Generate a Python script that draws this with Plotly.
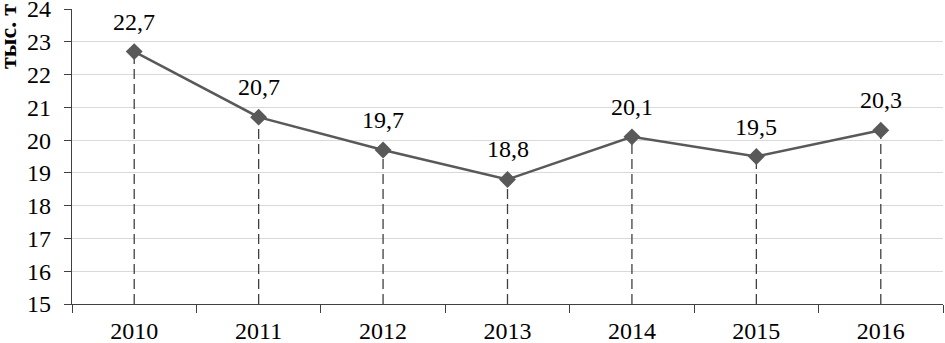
import plotly.graph_objects as go

years = ["2010", "2011", "2012", "2013", "2014", "2015", "2016"]
values = [22.7, 20.7, 19.7, 18.8, 20.1, 19.5, 20.3]
labels = ["22,7", "20,7", "19,7", "18,8", "20,1", "19,5", "20,3"]
y_min, y_max = 15, 24

FONT = "Liberation Serif, Times New Roman, serif"
W, H = 945, 343
ml, mr, mt, mb = 72, 2, 9, 39

fig = go.Figure()

# dashed drop lines from each point to the category axis
drop_x, drop_y = [], []
for yr, v in zip(years, values):
    drop_x += [yr, yr, None]
    drop_y += [y_min, v, None]
fig.add_trace(go.Scatter(
    x=drop_x, y=drop_y, mode="lines", connectgaps=False,
    line=dict(color="#404040", width=1.3, dash="10px,5px"),
    hoverinfo="skip", showlegend=False, cliponaxis=False,
))

fig.add_trace(go.Scatter(
    x=years, y=values, mode="lines+markers",
    line=dict(color="#595959", width=2.5),
    marker=dict(symbol="diamond", size=13, color="#595959"),
    cliponaxis=False, showlegend=False,
))

for i, (v, lab) in enumerate(zip(values, labels)):
    fig.add_annotation(x=i, y=v, xref="x", yref="y", text=lab, showarrow=False,
                       xanchor="center", yanchor="bottom", yshift=15,
                       font=dict(family=FONT, size=24, color="#000000"))

fig.add_annotation(text="<b>тыс. т</b>", xref="paper", yref="paper",
                   x=-(ml - 8) / (W - ml - mr), y=1 - (37 - mt) / (H - mt - mb),
                   xanchor="center", yanchor="middle", textangle=-90, showarrow=False,
                   font=dict(family=FONT, size=24, color="#000000"))

fig.update_layout(
    width=W, height=H, margin=dict(l=ml, r=mr, t=mt, b=mb, autoexpand=False),
    paper_bgcolor="white", plot_bgcolor="white",
    font=dict(family=FONT, size=24, color="#000000"),
    xaxis=dict(type="category", categoryorder="array", categoryarray=years,
               range=[-0.5, 6.5], tickson="boundaries", automargin=False,
               ticks="outside", ticklen=8, tickcolor="#404040", tickwidth=1.3,
               showline=True, linecolor="#404040", linewidth=1.3, ticklabelstandoff=5,
               showgrid=False, tickfont=dict(family=FONT, size=24)),
    yaxis=dict(range=[y_min, y_max], dtick=1, ticks="outside", ticklen=7, automargin=False,
               tickcolor="#404040", tickwidth=1.3, showline=True, linecolor="#404040",
               linewidth=1.3, ticklabelstandoff=8, ticklabeloverflow="allow",
               showgrid=True, gridcolor="#d9d9d9", gridwidth=1, zeroline=False,
               tickfont=dict(family=FONT, size=24)),
)

fig.write_html("out.html", config={"displayModeBar": False},
               post_script="document.body.style.margin='0';document.body.style.overflow='hidden';")
